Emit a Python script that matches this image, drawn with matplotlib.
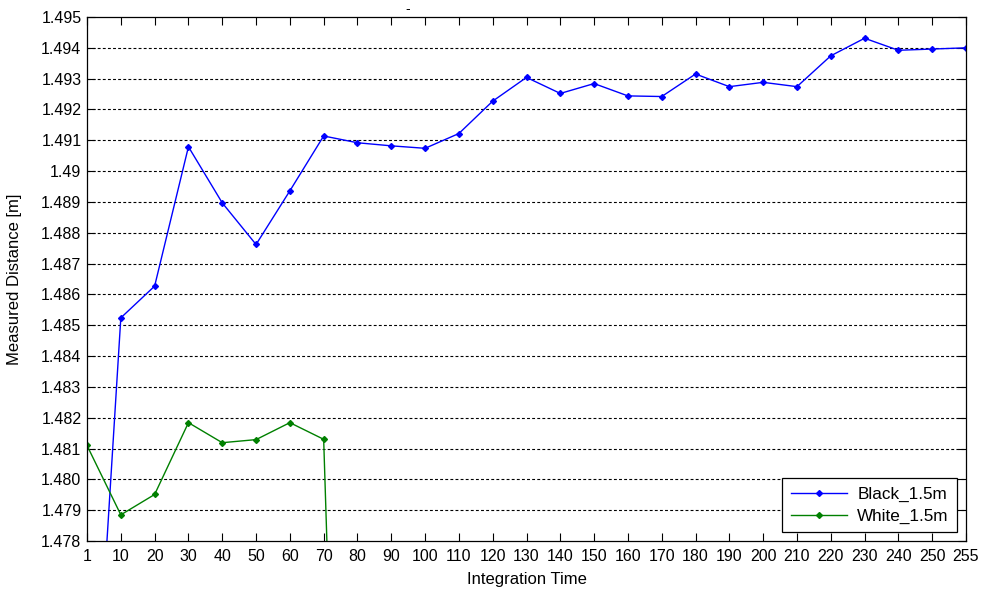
import matplotlib
matplotlib.use("Agg")
import matplotlib.pyplot as plt

plt.rcParams['font.family'] = ['Liberation Sans', 'DejaVu Sans']

# integration time steps (plotted at equal spacing)
time_labels = ['1', '10', '20', '30', '40', '50', '60', '70', '80', '90', '100',
               '110', '120', '130', '140', '150', '160', '170', '180', '190',
               '200', '210', '220', '230', '240', '250', '255']

black_1_5m = [1.4676, 1.48524, 1.48627, 1.49079, 1.48897, 1.48762, 1.48936,
              1.49114, 1.49092, 1.49082, 1.49074, 1.49122, 1.49227, 1.49304,
              1.49252, 1.49284, 1.49244, 1.49242, 1.49315, 1.49274, 1.49288,
              1.49274, 1.49374, 1.49431, 1.49392, 1.49396, 1.49400]

white_1_5m = [1.48110, 1.47885, 1.47951, 1.48184, 1.48119, 1.48129, 1.48184,
              1.48130, 1.4466]

y_ticks = [1.478, 1.479, 1.480, 1.481, 1.482, 1.483, 1.484, 1.485, 1.486,
           1.487, 1.488, 1.489, 1.490, 1.491, 1.492, 1.493, 1.494, 1.495]
y_tick_labels = ['1.478', '1.479', '1.480', '1.481', '1.482', '1.483', '1.484',
                 '1.485', '1.486', '1.487', '1.488', '1.489', '1.49', '1.491',
                 '1.492', '1.493', '1.494', '1.495']

fig = plt.figure(figsize=(9.81, 5.92), dpi=100)
ax = fig.add_axes([0.0887, 0.0861, 0.896, 0.8852])

ax.plot(range(len(black_1_5m)), black_1_5m, color=(0, 0, 1), lw=1,
        marker='D', markersize=3.0, label='Black_1.5m')
ax.plot(range(len(white_1_5m)), white_1_5m, color=(0, 0.5, 0), lw=1,
        marker='D', markersize=3.0, label='White_1.5m')

ax.set_xlim(0, len(time_labels) - 1)
ax.set_ylim(1.478, 1.495)
ax.set_xticks(range(len(time_labels)))
ax.set_xticklabels(time_labels)
ax.set_yticks(y_ticks)
ax.set_yticklabels(y_tick_labels)

# horizontal dashed grid only
for y in y_ticks[1:-1]:
    ax.axhline(y, color='k', lw=0.8, dashes=(2.6, 2.0), zorder=0.5)

ax.tick_params(direction='in', length=6, width=0.8, top=True, right=True,
               labelsize=11.5, colors='k', pad=4)
ax.tick_params(axis='x', pad=5.5)
for s in ax.spines.values():
    s.set_linewidth(0.9)

ax.set_xlabel('Integration Time', fontsize=12, labelpad=6)
ax.set_ylabel('Measured Distance [m]', fontsize=12)
ax.yaxis.set_label_coords(-0.074, 0.5)
ax.set_title('-', fontsize=10, x=0.365, pad=3)

leg = ax.legend(loc='lower right', fontsize=12.3, fancybox=False, framealpha=1,
                edgecolor='k', handlelength=3.3, borderaxespad=0.5,
                handletextpad=0.6, borderpad=0.5, labelspacing=0.4)
leg.get_frame().set_linewidth(0.9)

fig.savefig('out.png', dpi=100)
